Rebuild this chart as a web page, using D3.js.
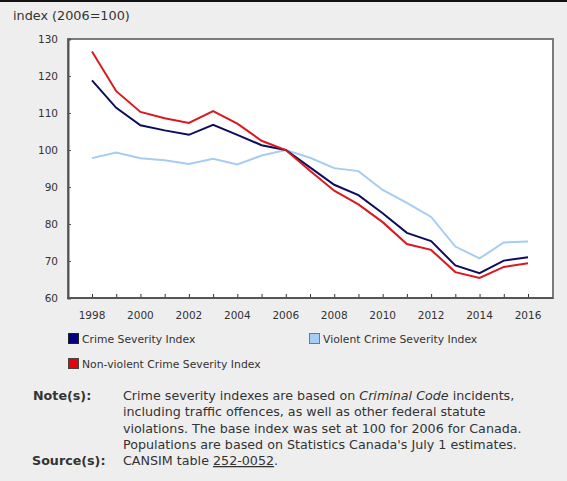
<!DOCTYPE html>
<html>
<head>
<meta charset="utf-8">
<script src="https://cdn.jsdelivr.net/npm/d3@7"></script>
<style>
  body { margin: 0; background: #eeeeee; }
  svg text { font-family: "DejaVu Sans", Verdana, sans-serif; fill: #333; }
</style>
</head>
<body>
<div id="chart"></div>
<script>
// chart data
const years = [1998, 1999, 2000, 2001, 2002, 2003, 2004, 2005, 2006, 2007,
               2008, 2009, 2010, 2011, 2012, 2013, 2014, 2015, 2016];
const crimeIndex = [118.8, 111.4, 106.7, 105.3, 104.1, 106.8, 104.1, 101.3, 100, 95.3,
                    90.6, 87.8, 82.9, 77.6, 75.4, 68.8, 66.7, 70.1, 71.0];
const violentIndex = [97.8, 99.3, 97.8, 97.2, 96.2, 97.6, 96.1, 98.5, 100, 97.9,
                      95.1, 94.3, 89.2, 85.7, 81.9, 73.9, 70.7, 75.0, 75.3];
const nonViolentIndex = [126.6, 115.9, 110.3, 108.6, 107.3, 110.5, 107.1, 102.5, 100, 94.4,
                         89.0, 85.3, 80.5, 74.6, 73.0, 67.0, 65.4, 68.4, 69.4];
const yTicks = [60, 70, 80, 90, 100, 110, 120, 130];
const seriesNames = ["Crime Severity Index", "Violent Crime Severity Index", "Non-violent Crime Severity Index"];

const width = 567, height = 481;
const plot = {left: 68, right: 553, top: 39, bottom: 298};

const svg = d3.select("#chart").append("svg")
  .attr("width", width)
  .attr("height", height);

// top dark rule
svg.append("rect").attr("x", 0).attr("y", 0).attr("width", width).attr("height", 2).attr("fill", "#111");

svg.append("text")
  .attr("x", 13).attr("y", 20)
  .attr("font-size", "12.8px")
  .text("index (2006=100)");

// plot background
svg.append("rect")
  .attr("x", plot.left).attr("y", plot.top)
  .attr("width", plot.right - plot.left).attr("height", plot.bottom - plot.top)
  .attr("fill", "#fff")
  .attr("stroke", "#7a7a7a")
  .attr("stroke-width", 2);

const x = d3.scaleLinear().domain([1998, 2016]).range([92, 528]);
const y = d3.scaleLinear().domain([60, 130]).range([plot.bottom, plot.top]);

// y axis
const yAxis = svg.append("g")
  .attr("transform", `translate(${plot.left},0)`)
  .call(d3.axisRight(y).tickValues(yTicks).tickSize(3).tickFormat(""));
yAxis.select(".domain").attr("stroke", "#555").attr("stroke-width", 2);
yAxis.selectAll(".tick line").attr("stroke", "#555");

svg.selectAll(".ylab")
  .data(yTicks)
  .enter().append("text")
  .attr("class", "ylab")
  .attr("x", 58)
  .attr("y", d => y(d) + 4)
  .attr("text-anchor", "end")
  .attr("font-size", "10.5px")
  .text(d => d);

// x axis
const xAxis = svg.append("g")
  .attr("transform", `translate(0,${plot.bottom})`)
  .call(d3.axisTop(x).tickValues(years).tickSize(4).tickFormat(""));
xAxis.select(".domain").remove();
xAxis.selectAll(".tick line").attr("stroke", "#333");
svg.append("line")
  .attr("x1", plot.left - 1).attr("x2", plot.right)
  .attr("y1", plot.bottom).attr("y2", plot.bottom)
  .attr("stroke", "#555").attr("stroke-width", 2);

svg.selectAll(".xlab")
  .data(years.filter(d => d % 2 === 0))
  .enter().append("text")
  .attr("class", "xlab")
  .attr("x", d => x(d))
  .attr("y", 319)
  .attr("text-anchor", "middle")
  .attr("font-size", "10.5px")
  .text(d => d);

// lines
const line = d3.line().x((d, i) => x(years[i])).y(d => y(d));

const series = [
  {vals: violentIndex, color: "#a5cdf3"},
  {vals: crimeIndex, color: "#0d0d5e"},
  {vals: nonViolentIndex, color: "#d9181f"}
];
series.forEach(s => {
  svg.append("path")
    .datum(s.vals)
    .attr("d", line)
    .attr("fill", "none")
    .attr("stroke", s.color)
    .attr("stroke-width", 2);
});

// legend
const legend = [
  {name: seriesNames[0], fill: "#000080", stroke: "#222", x: 68, y: 333},
  {name: seriesNames[1], fill: "#a6cdf5", stroke: "#6a7a8a", x: 309, y: 333},
  {name: seriesNames[2], fill: "#e8000b", stroke: "#444", x: 68, y: 358}
];
legend.forEach(l => {
  svg.append("rect")
    .attr("x", l.x + 0.5).attr("y", l.y + 0.5)
    .attr("width", 10).attr("height", 10)
    .attr("fill", l.fill).attr("stroke", l.stroke);
  svg.append("text")
    .attr("x", l.x + 14).attr("y", l.y + 10)
    .attr("font-size", "10.8px")
    .text(l.name);
});

// notes
const noteLines = [
  ["Crime severity indexes are based on ", {i: "Criminal Code"}, " incidents,"],
  ["including traffic offences, as well as other federal statute"],
  ["violations. The base index was set at 100 for 2006 for Canada."],
  ["Populations are based on Statistics Canada's July 1 estimates."]
];
svg.append("text")
  .attr("x", 33).attr("y", 400)
  .attr("font-size", "12.7px").attr("font-weight", "bold")
  .text("Note(s):");
noteLines.forEach((parts, i) => {
  const t = svg.append("text")
    .attr("x", 123).attr("y", 400 + i * 16.3)
    .attr("font-size", "12.7px");
  parts.forEach(p => {
    if (typeof p === "string") t.append("tspan").text(p);
    else t.append("tspan").attr("font-style", "italic").text(p.i);
  });
});
svg.append("text")
  .attr("x", 32).attr("y", 465)
  .attr("font-size", "12.7px").attr("font-weight", "bold")
  .text("Source(s):");
const src = svg.append("text")
  .attr("x", 123).attr("y", 465)
  .attr("font-size", "12.7px");
src.append("tspan").text("CANSIM table ");
src.append("tspan").attr("text-decoration", "underline").text("252-0052");
src.append("tspan").text(".");
</script>
</body>
</html>
